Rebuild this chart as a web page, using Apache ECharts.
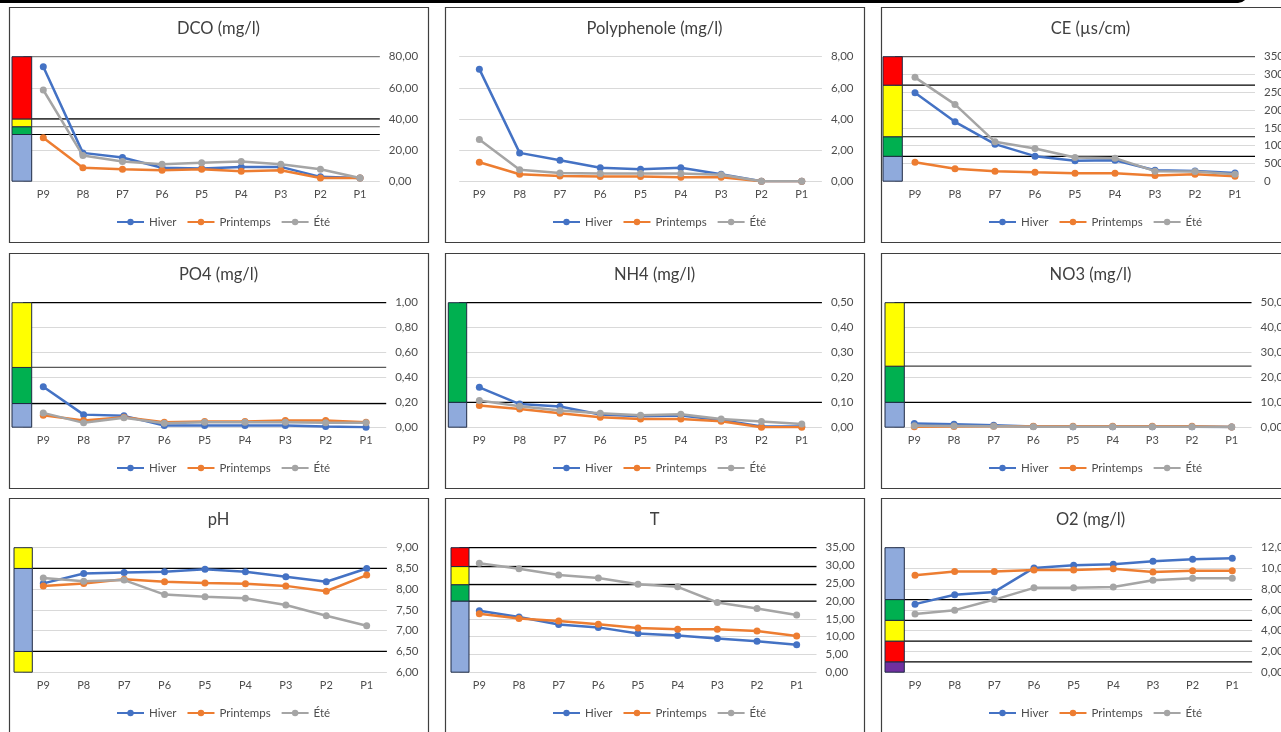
<!DOCTYPE html>
<html>
<head>
<meta charset="utf-8">
<script src="https://cdn.jsdelivr.net/npm/echarts@6/dist/echarts.min.js"></script>
<style>
html,body{margin:0;padding:0;background:#fff;}
#chart{width:1281px;height:732px;}
</style>
</head>
<body>
<div id="chart"></div>
<script>
// ---------- DATA ----------
const categories = ['P9','P8','P7','P6','P5','P4','P3','P2','P1'];
const seasons = ['Hiver','Printemps','Été'];

const dcoHiver     = [73.6, 18.2, 15.2, 8.6, 8.2, 9.2, 9.2, 2.8, 2.1];
const dcoPrintemps = [27.9, 8.6, 7.7, 7.1, 7.7, 6.4, 7.1, 2.1, 2.1];
const dcoEte       = [58.6, 16.5, 12.7, 10.9, 11.8, 12.7, 10.9, 7.7, 2.1];
const dcoTicks     = [0, 80, 20];
const dcoBands     = [0, 30, 35, 40, 80];
const dcoLines     = [80, 40, 35, 30];

const polyHiver     = [7.2, 1.82, 1.35, 0.86, 0.77, 0.86, 0.45, 0, 0];
const polyPrintemps = [1.22, 0.45, 0.34, 0.30, 0.30, 0.26, 0.26, 0, 0];
const polyEte       = [2.68, 0.73, 0.53, 0.50, 0.50, 0.50, 0.41, 0, 0];
const polyTicks     = [0, 8, 2];

const ceHiver     = [2486, 1670, 1042, 704, 572, 591, 310, 290, 234];
const cePrintemps = [535, 347, 282, 253, 225, 225, 160, 197, 141];
const ceEte       = [2919, 2159, 1107, 920, 667, 648, 282, 273, 197];
const ceTicks     = [0, 3500, 500];
const ceBands     = [0, 700, 1250, 2700, 3500];
const ceLines     = [3500, 2700, 1250, 700];

const po4Hiver     = [0.325, 0.101, 0.091, 0.013, 0.013, 0.013, 0.013, 0.005, 0];
const po4Printemps = [0.096, 0.053, 0.08, 0.04, 0.045, 0.045, 0.053, 0.053, 0.04];
const po4Ete       = [0.115, 0.035, 0.075, 0.032, 0.04, 0.04, 0.04, 0.035, 0.035];
const po4Ticks     = [0, 1, 0.2];
const po4Bands     = [0, 0.19, 0.48, 1];
const po4Lines     = [1, 0.48, 0.19];

const nh4Hiver     = [0.16, 0.093, 0.083, 0.051, 0.044, 0.047, 0.029, 0.003, 0.003];
const nh4Printemps = [0.087, 0.073, 0.056, 0.04, 0.033, 0.033, 0.024, 0, 0];
const nh4Ete       = [0.107, 0.084, 0.067, 0.056, 0.048, 0.052, 0.033, 0.023, 0.013];
const nh4Ticks     = [0, 0.5, 0.1];
const nh4Bands     = [0, 0.1, 0.5];
const nh4Lines     = [0.5, 0.1];

const no3Hiver     = [1.5, 1.2, 0.8, 0.3, 0.2, 0.2, 0.2, 0.2, 0.1];
const no3Printemps = [0.2, 0.3, 0.4, 0.4, 0.4, 0.4, 0.4, 0.4, 0.1];
const no3Ete       = [0.6, 0.5, 0.4, 0.2, 0.2, 0.2, 0.2, 0.2, 0.1];
const no3Ticks     = [0, 50, 10];
const no3Bands     = [0, 10, 24.5, 50];
const no3Lines     = [50, 24.5, 10];

const phHiver     = [8.14, 8.38, 8.4, 8.42, 8.48, 8.42, 8.3, 8.18, 8.5];
const phPrintemps = [8.08, 8.14, 8.24, 8.18, 8.15, 8.13, 8.08, 7.95, 8.34];
const phEte       = [8.27, 8.19, 8.22, 7.87, 7.82, 7.78, 7.62, 7.36, 7.12];
const phTicks     = [6, 9, 0.5];
const phBands     = [6, 6.5, 8.5, 9];
const phLines     = [8.5, 6.5];

const tHiver     = [17.3, 15.5, 13.4, 12.6, 10.9, 10.3, 9.5, 8.7, 7.7];
const tPrintemps = [16.4, 15.1, 14.4, 13.5, 12.4, 12.1, 12.1, 11.6, 10.2];
const tEte       = [30.6, 29.1, 27.3, 26.5, 24.7, 24.0, 19.6, 17.9, 16.1];
const tTicks     = [0, 35, 5];
const tBands     = [0, 20, 24.6, 29.7, 35];
const tLines     = [35, 29.7, 24.6, 20];

const o2Hiver     = [6.56, 7.46, 7.74, 10.05, 10.3, 10.4, 10.69, 10.88, 10.98];
const o2Printemps = [9.34, 9.7, 9.7, 9.86, 9.86, 9.98, 9.66, 9.79, 9.79];
const o2Ete       = [5.6, 5.98, 7.0, 8.13, 8.13, 8.22, 8.86, 9.06, 9.06];
const o2Ticks     = [0, 12, 2];
const o2Bands     = [0, 1, 3, 5, 7, 12];
const o2Lines     = [7, 5, 3, 1];

// ---------- STYLE / LAYOUT ----------
const C = {blue:'#8FAADC', green:'#00B050', yellow:'#FFFF00', red:'#FF0000', purple:'#7030A0'};
const seasonColors = ['#4472C4', '#ED7D31', '#A5A5A5'];
const FONT = 'Lato, "Liberation Sans", sans-serif';
const TXT = '#4D4D4D';
const colX = [9, 445, 881], rowY = [7, 253, 498];
const PW = 419, PH = 235;

const panels = [
  {title:'DCO (mg/l)', data:[dcoHiver,dcoPrintemps,dcoEte], ticks:dcoTicks, dec:2, bands:dcoBands,
   bandColors:[C.blue,C.green,C.yellow,C.red], lines:dcoLines, lineColors:['#7F7F7F','#000','#595959','#000'],
   col:0,row:0, gl:23.5, gr:379.8, bx:[12,31.7]},
  {title:'Polyphenole (mg/l)', data:[polyHiver,polyPrintemps,polyEte], ticks:polyTicks, dec:2,
   col:1,row:0, gl:459.2, gr:821.9},
  {title:'CE (µs/cm)', data:[ceHiver,cePrintemps,ceEte], ticks:ceTicks, dec:0, bands:ceBands,
   bandColors:[C.blue,C.green,C.yellow,C.red], lines:ceLines, lineColors:['#595959','#000','#000','#000'],
   col:2,row:0, gl:895, gr:1255, bx:[883,902.3]},
  {title:'PO4 (mg/l)', data:[po4Hiver,po4Printemps,po4Ete], ticks:po4Ticks, dec:2, bands:po4Bands,
   bandColors:[C.blue,C.green,C.yellow], lines:po4Lines, lineColors:['#000','#595959','#000'],
   col:0,row:1, gl:23.1, gr:386.2, bx:[12,31.7]},
  {title:'NH4 (mg/l)', data:[nh4Hiver,nh4Printemps,nh4Ete], ticks:nh4Ticks, dec:2, bands:nh4Bands,
   bandColors:[C.blue,C.green], lines:nh4Lines, lineColors:['#000','#000'],
   col:1,row:1, gl:459.2, gr:821.9, bx:[448.3,466.7]},
  {title:'NO3 (mg/l)', data:[no3Hiver,no3Printemps,no3Ete], ticks:no3Ticks, dec:2, bands:no3Bands,
   bandColors:[C.blue,C.green,C.yellow], lines:no3Lines, lineColors:['#000','#404040','#000'],
   col:2,row:1, gl:894.5, gr:1251.5, bx:[885,904.3]},
  {title:'pH', data:[phHiver,phPrintemps,phEte], ticks:phTicks, dec:2, bands:phBands,
   bandColors:[C.yellow,C.blue,C.yellow], lines:phLines, lineColors:['#000','#000'],
   col:0,row:2, gl:23.1, gr:386.9, bx:[14,32.3]},
  {title:'T', data:[tHiver,tPrintemps,tEte], ticks:tTicks, dec:2, bands:tBands,
   bandColors:[C.blue,C.green,C.yellow,C.red], lines:tLines, lineColors:['#000','#000','#000','#000'],
   col:1,row:2, gl:459.5, gr:816.5, bx:[451,469]},
  {title:'O2 (mg/l)', data:[o2Hiver,o2Printemps,o2Ete], ticks:o2Ticks, dec:2, bands:o2Bands,
   bandColors:[C.purple,C.red,C.yellow,C.green,C.blue], lines:o2Lines, lineColors:['#000','#000','#000','#000'],
   col:2,row:2, gl:895.2, gr:1252.1, bx:[885,904.3]}
];

const option = {
  backgroundColor:'#fff', animation:false,
  textStyle:{fontFamily:FONT},
  title:[], legend:[], grid:[], xAxis:[], yAxis:[], series:[], graphic:[]
};

// top black frame edge
option.graphic.push({type:'rect', shape:{x:-10, y:-10, width:1258, height:13, r:[0,0,10,0]}, style:{fill:'#000'}, z:100});

panels.forEach((p, i) => {
  const px = colX[p.col], py = rowY[p.row];
  const gTop = py + 49.7, gH = 124.5;
  const [mn, mx, itv] = p.ticks;
  const mainIdx = option.grid.length;
  option.grid.push({left:p.gl, top:gTop, width:p.gr - p.gl, height:gH, containLabel:false, outerBoundsMode:'none'});
  option.xAxis.push({type:'category', gridIndex:mainIdx, data:categories, boundaryGap:true,
    axisLine:{show:false}, axisTick:{show:false},
    axisLabel:{color:TXT, fontSize:11, fontFamily:FONT, margin:8, interval:0}});
  option.yAxis.push({type:'value', gridIndex:mainIdx, position:'right', min:mn, max:mx, interval:itv,
    axisLine:{show:false}, axisTick:{show:false},
    splitLine:{lineStyle:{color:'#D9D9D9', width:1}},
    axisLabel:{color:TXT, fontSize:11.5, fontFamily:FONT, margin:9,
      formatter: v => v.toFixed(p.dec).replace('.', ',')}});

  option.title.push({text:p.title, left:px + PW/2, top:py + 13, textAlign:'center', padding:0,
    textStyle:{color:'#404040', fontSize:16.5, fontWeight:'normal', fontFamily:FONT}});
  option.legend.push({data:seasons, left:px + 107, top:py + 209, itemWidth:27, itemHeight:8, itemGap:10,
    padding:0, textStyle:{color:TXT, fontSize:11.5, fontFamily:FONT}, selectedMode:false});

  option.graphic.push({type:'rect', shape:{x:px + 0.5, y:py + 0.5, width:PW, height:PH},
    style:{fill:'none', stroke:'#3F3F3F', lineWidth:1.2}, z:50, silent:true});

  if (p.lines) {
    option.series.push({type:'custom', xAxisIndex:mainIdx, yAxisIndex:mainIdx, z:1, silent:true,
      data:p.lines.map(v => [0, v]),
      renderItem:(params, api) => {
        const y = api.coord([0, api.value(1)])[1];
        const cs = params.coordSys;
        return {type:'line', shape:{x1:cs.x, y1:y, x2:cs.x + cs.width, y2:y},
          style:{stroke:p.lineColors[params.dataIndex], lineWidth:1.2}};
      }});
  }

  p.data.forEach((arr, k) => {
    option.series.push({type:'line', name:seasons[k], xAxisIndex:mainIdx, yAxisIndex:mainIdx, data:arr,
      z:3 + k, symbol:'circle', symbolSize:7, showSymbol:true,
      lineStyle:{color:seasonColors[k], width:2.5}, itemStyle:{color:seasonColors[k]}});
  });

  if (p.bands) {
    const bIdx = option.grid.length;
    option.grid.push({left:p.bx[0], top:gTop, width:p.bx[1] - p.bx[0], height:gH, containLabel:false, outerBoundsMode:'none'});
    option.xAxis.push({type:'value', gridIndex:bIdx, min:0, max:1, show:false});
    option.yAxis.push({type:'value', gridIndex:bIdx, min:mn, max:mx, show:false});
    const segs = [];
    for (let j = 0; j < p.bands.length - 1; j++) segs.push([p.bands[j], p.bands[j + 1]]);
    option.series.push({type:'custom', xAxisIndex:bIdx, yAxisIndex:bIdx, z:10, silent:true,
      data:segs, encode:{y:[0, 1]},
      renderItem:(params, api) => {
        const lo = api.value(0), hi = api.value(1);
        const a = api.coord([0, hi]), b = api.coord([1, lo]);
        return {type:'rect', shape:{x:a[0], y:a[1], width:b[0] - a[0], height:b[1] - a[1]},
          style:{fill:p.bandColors[params.dataIndex], stroke:'#1F2A44', lineWidth:1}};
      }});
  }
});

const chart = echarts.init(document.getElementById('chart'), null, {renderer:'canvas'});
chart.setOption(option);
</script>
</body>
</html>
